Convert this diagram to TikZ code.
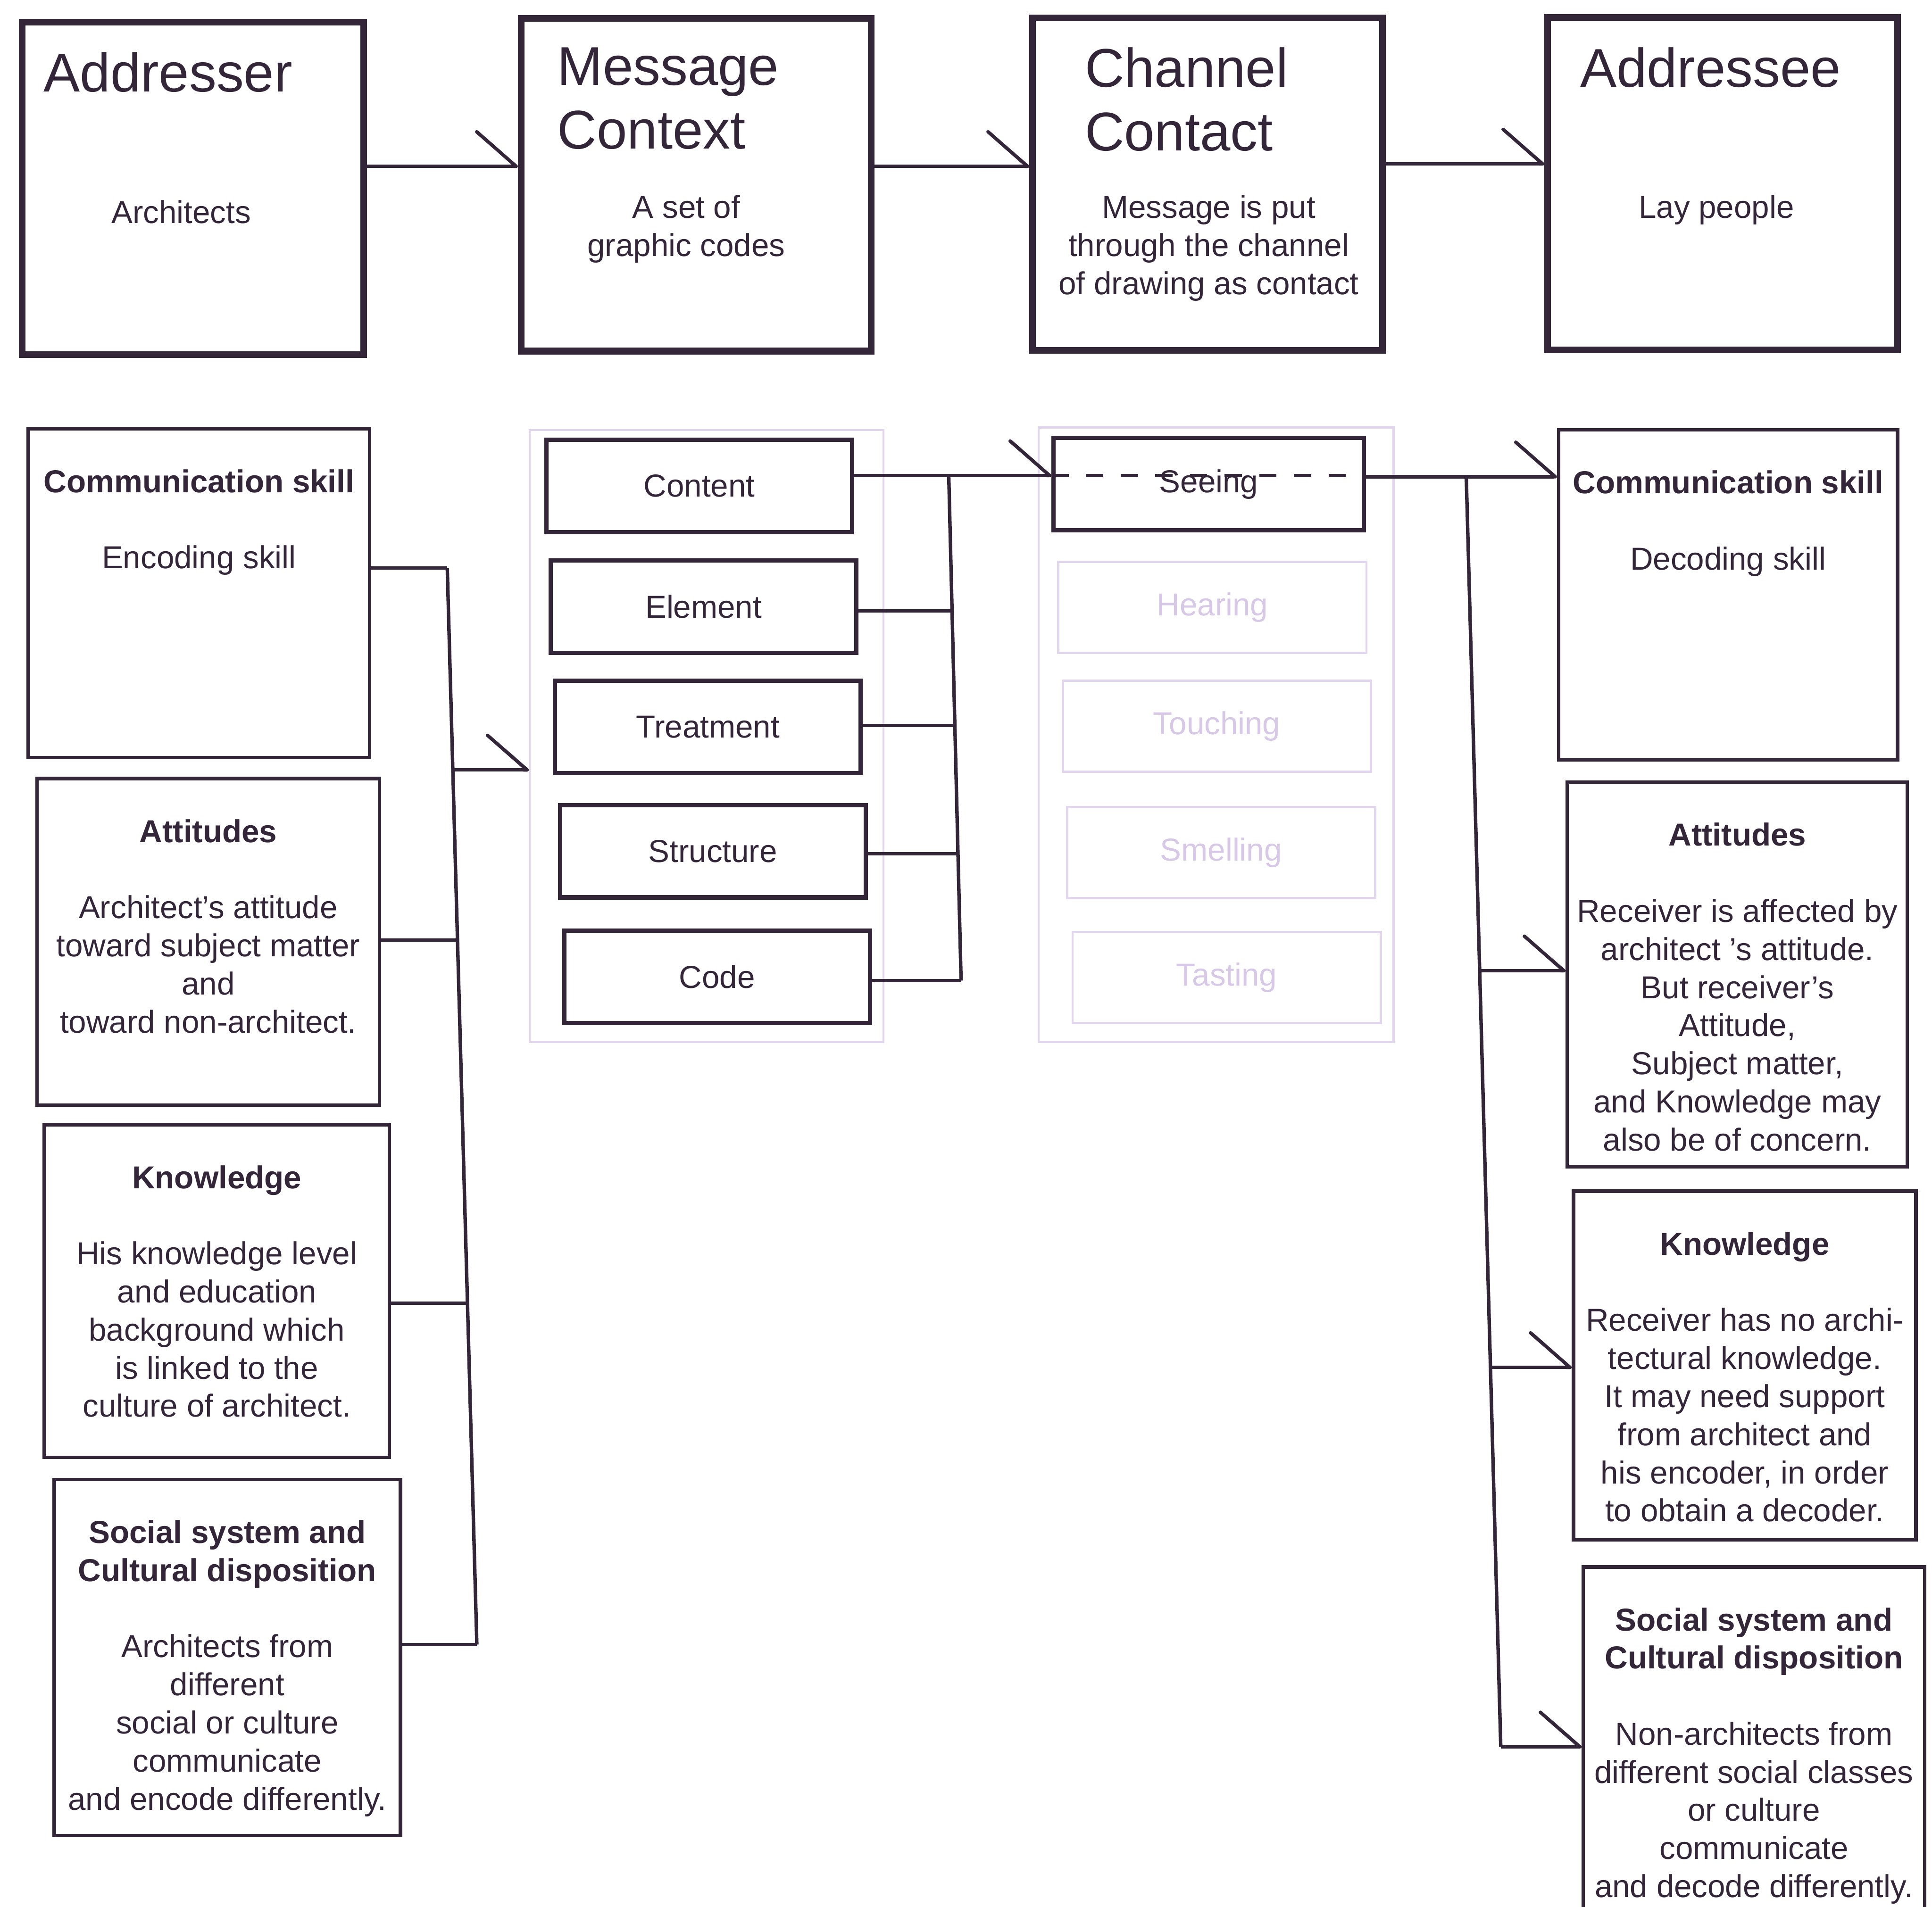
\documentclass[tikz,border=0pt]{standalone}
\usepackage{fontspec}
\setmainfont{Liberation Sans}
\usetikzlibrary{arrows.meta,calc}
\definecolor{ink}{RGB}{50,38,56}
\definecolor{lavline}{RGB}{226,214,238}
\definecolor{lavtext}{RGB}{214,200,230}
\newcommand{\bodyfont}{\fontsize{11}{13.2}\selectfont}
\newcommand{\titlefont}{\fontsize{18.9}{22.1}\selectfont}
\tikzset{
  topbox/.style={draw=ink, line width=2.3pt, minimum height=270*0.15mm},
  lowbox/.style={draw=ink, line width=1.2pt},
  title/.style={anchor=north west, align=left, inner sep=0pt, font=\titlefont, text=ink},
  note/.style={align=center, inner sep=0pt, font=\bodyfont, text=ink},
  frame/.style={draw=lavline, line width=0.7pt},
  codebox/.style={draw=ink, line width=1.5pt, minimum width=248*0.15mm, minimum height=75*0.15mm, font=\bodyfont, text=ink},
  sensebox/.style={draw=lavline, line width=0.8pt, minimum width=250*0.15mm, minimum height=74*0.15mm, font=\bodyfont, text=lavtext},
  wire/.style={draw=ink, line width=1.2pt},
  flow/.style={wire, -{Straight Barb[left, length=4.8mm, width=8.4mm, round]}}
}
% box with a bold heading, the text hangs from the top edge
\newcommand{\notebox}[6]{
  \node[lowbox, minimum width=#4*0.15mm, minimum height=#5*0.15mm] (#1) at (#2,#3) {};
  \node[note, anchor=north] (#1-text) at ($(#1.north)+(0,34)$) {#6};
}

\begin{document}
\begin{tikzpicture}[x=0.15mm, y=-0.15mm]
\useasboundingbox (0,0) rectangle (1568,1548);
\fill[white] (0,0) rectangle (1568,1548);
\clip (0,0) rectangle (1568,1548);

%Top row
\node[topbox, minimum width=277*0.15mm] (addresser) at (156.5,153) {};
\node[topbox, minimum width=284*0.15mm] (message) at (565,150) {};
\node[topbox, minimum width=284*0.15mm] (channel) at (980,149.5) {};
\node[topbox, minimum width=284*0.15mm] (addressee) at (1398,149) {};
\node[title] (addresser-title) at (35,42) {Addresser};
\node[title] (message-title) at (452,38) {Message\\Context};
\node[title] (channel-title) at (880,38) {Channel\\Contact};
\node[title] (addressee-title) at (1282,38) {Addressee};
\node[note, anchor=north] (addresser-note) at (147,162) {Architects};
\node[note, anchor=north] (message-note) at (557,158) {A set of\\graphic codes};
\node[note, anchor=north] (channel-note) at (981,158) {Message is put\\through the channel\\of drawing as contact};
\node[note, anchor=north] (addressee-note) at (1393,158) {Lay people};
\draw[flow] (addresser.east |- 0,135) -- (message.west |- 0,135);
\draw[flow] (message.east |- 0,135) -- (channel.west |- 0,135);
\draw[flow] (channel.east |- 0,133) -- (addressee.west |- 0,133);

%Sender side
\notebox{lcomm}{161.5}{481.5}{277}{267}{\textbf{Communication skill}\\[13.2pt]Encoding skill}
\notebox{latt}{169}{764.5}{278}{265}{\textbf{Attitudes}\\[13.2pt]Architect's attitude\\toward subject matter\\and\\toward non-architect.}
\notebox{lknow}{176}{1048}{280}{270}{\textbf{Knowledge}\\[13.2pt]His knowledge level\\and education\\background which\\is linked to the\\culture of architect.}
\notebox{lsoc}{184.5}{1345.5}{281}{289}{\textbf{Social system and}\\\textbf{Cultural disposition}\\[13.2pt]Architects from\\different\\social or culture\\communicate\\and encode differently.}

%Message codes
\node[frame, minimum width=287*0.15mm, minimum height=497*0.15mm] (mgroup) at (573.5,597.5) {};
\foreach \n/\t/\x/\y in {content/Content/567.5/394.5, element/Element/571/492.5, treatment/Treatment/574.5/590, structure/Structure/578.5/691, code/Code/582/793}
  \node[codebox] (\n) at (\x,\y) {\t};

%Channels
\node[frame, minimum width=288*0.15mm, minimum height=499*0.15mm] (cgroup) at (987,596.5) {};
\node[codebox, minimum width=252*0.15mm] (seeing) at (981,393) {Seeing};
\foreach \n/\t/\x/\y in {hearing/Hearing/984/493, touching/Touching/987.5/589.5, smelling/Smelling/991/692, tasting/Tasting/995.5/793.5}
  \node[sensebox] (\n) at (\x,\y) {\t};

%Receiver side
\notebox{rcomm}{1402.5}{483}{275}{268}{\textbf{Communication skill}\\[13.2pt]Decoding skill}
\notebox{ratt}{1410}{791}{276}{312}{\textbf{Attitudes}\\[13.2pt]Receiver is affected by\\architect 's attitude.\\But receiver's\\Attitude,\\Subject matter,\\and Knowledge may\\also be of concern.}
\notebox{rknow}{1416}{1108.5}{278}{283}{\textbf{Knowledge}\\[13.2pt]Receiver has no archi-\\tectural knowledge.\\It may need support\\from architect and\\his encoder, in order\\to obtain a decoder.}
\notebox{rsoc}{1423.5}{1426}{277}{308}{\textbf{Social system and}\\\textbf{Cultural disposition}\\[13.2pt]Non-architects from\\different social classes\\or culture\\communicate\\and decode differently.}

%Left bracket
\draw[wire] (363,461) -- (387,1335);
\foreach \b/\y in {lcomm/461, latt/763, lknow/1058, lsoc/1335}
  \draw[wire] (\b.east |- 0,\y) -- ({363+(\y-461)/874*24},\y);
\draw[flow] (367.5,625) -- (mgroup.west |- 0,625);

%Middle bracket
\draw[wire] (770,386) -- (780,796);
\foreach \b/\y in {element/496, treatment/589, structure/693, code/796}
  \draw[wire] (\b.east |- 0,\y) -- ({770+(\y-386)/410*10},\y);
\draw[flow] (content.east |- 0,386) -- (seeing.west |- 0,386);
\draw[wire, dash pattern=on 6pt off 6pt] (seeing.west |- 0,386) -- (seeing.east |- 0,386);

%Right bracket
\draw[flow] (seeing.east |- 0,387) -- (rcomm.west |- 0,387);
\draw[wire] (1190,387) -- (1218,1418);
\foreach \b/\y in {ratt/788, rknow/1110, rsoc/1418}
  \draw[flow] ({1190+(\y-387)/1031*28},\y) -- (\b.west |- 0,\y);
\end{tikzpicture}
\end{document}
